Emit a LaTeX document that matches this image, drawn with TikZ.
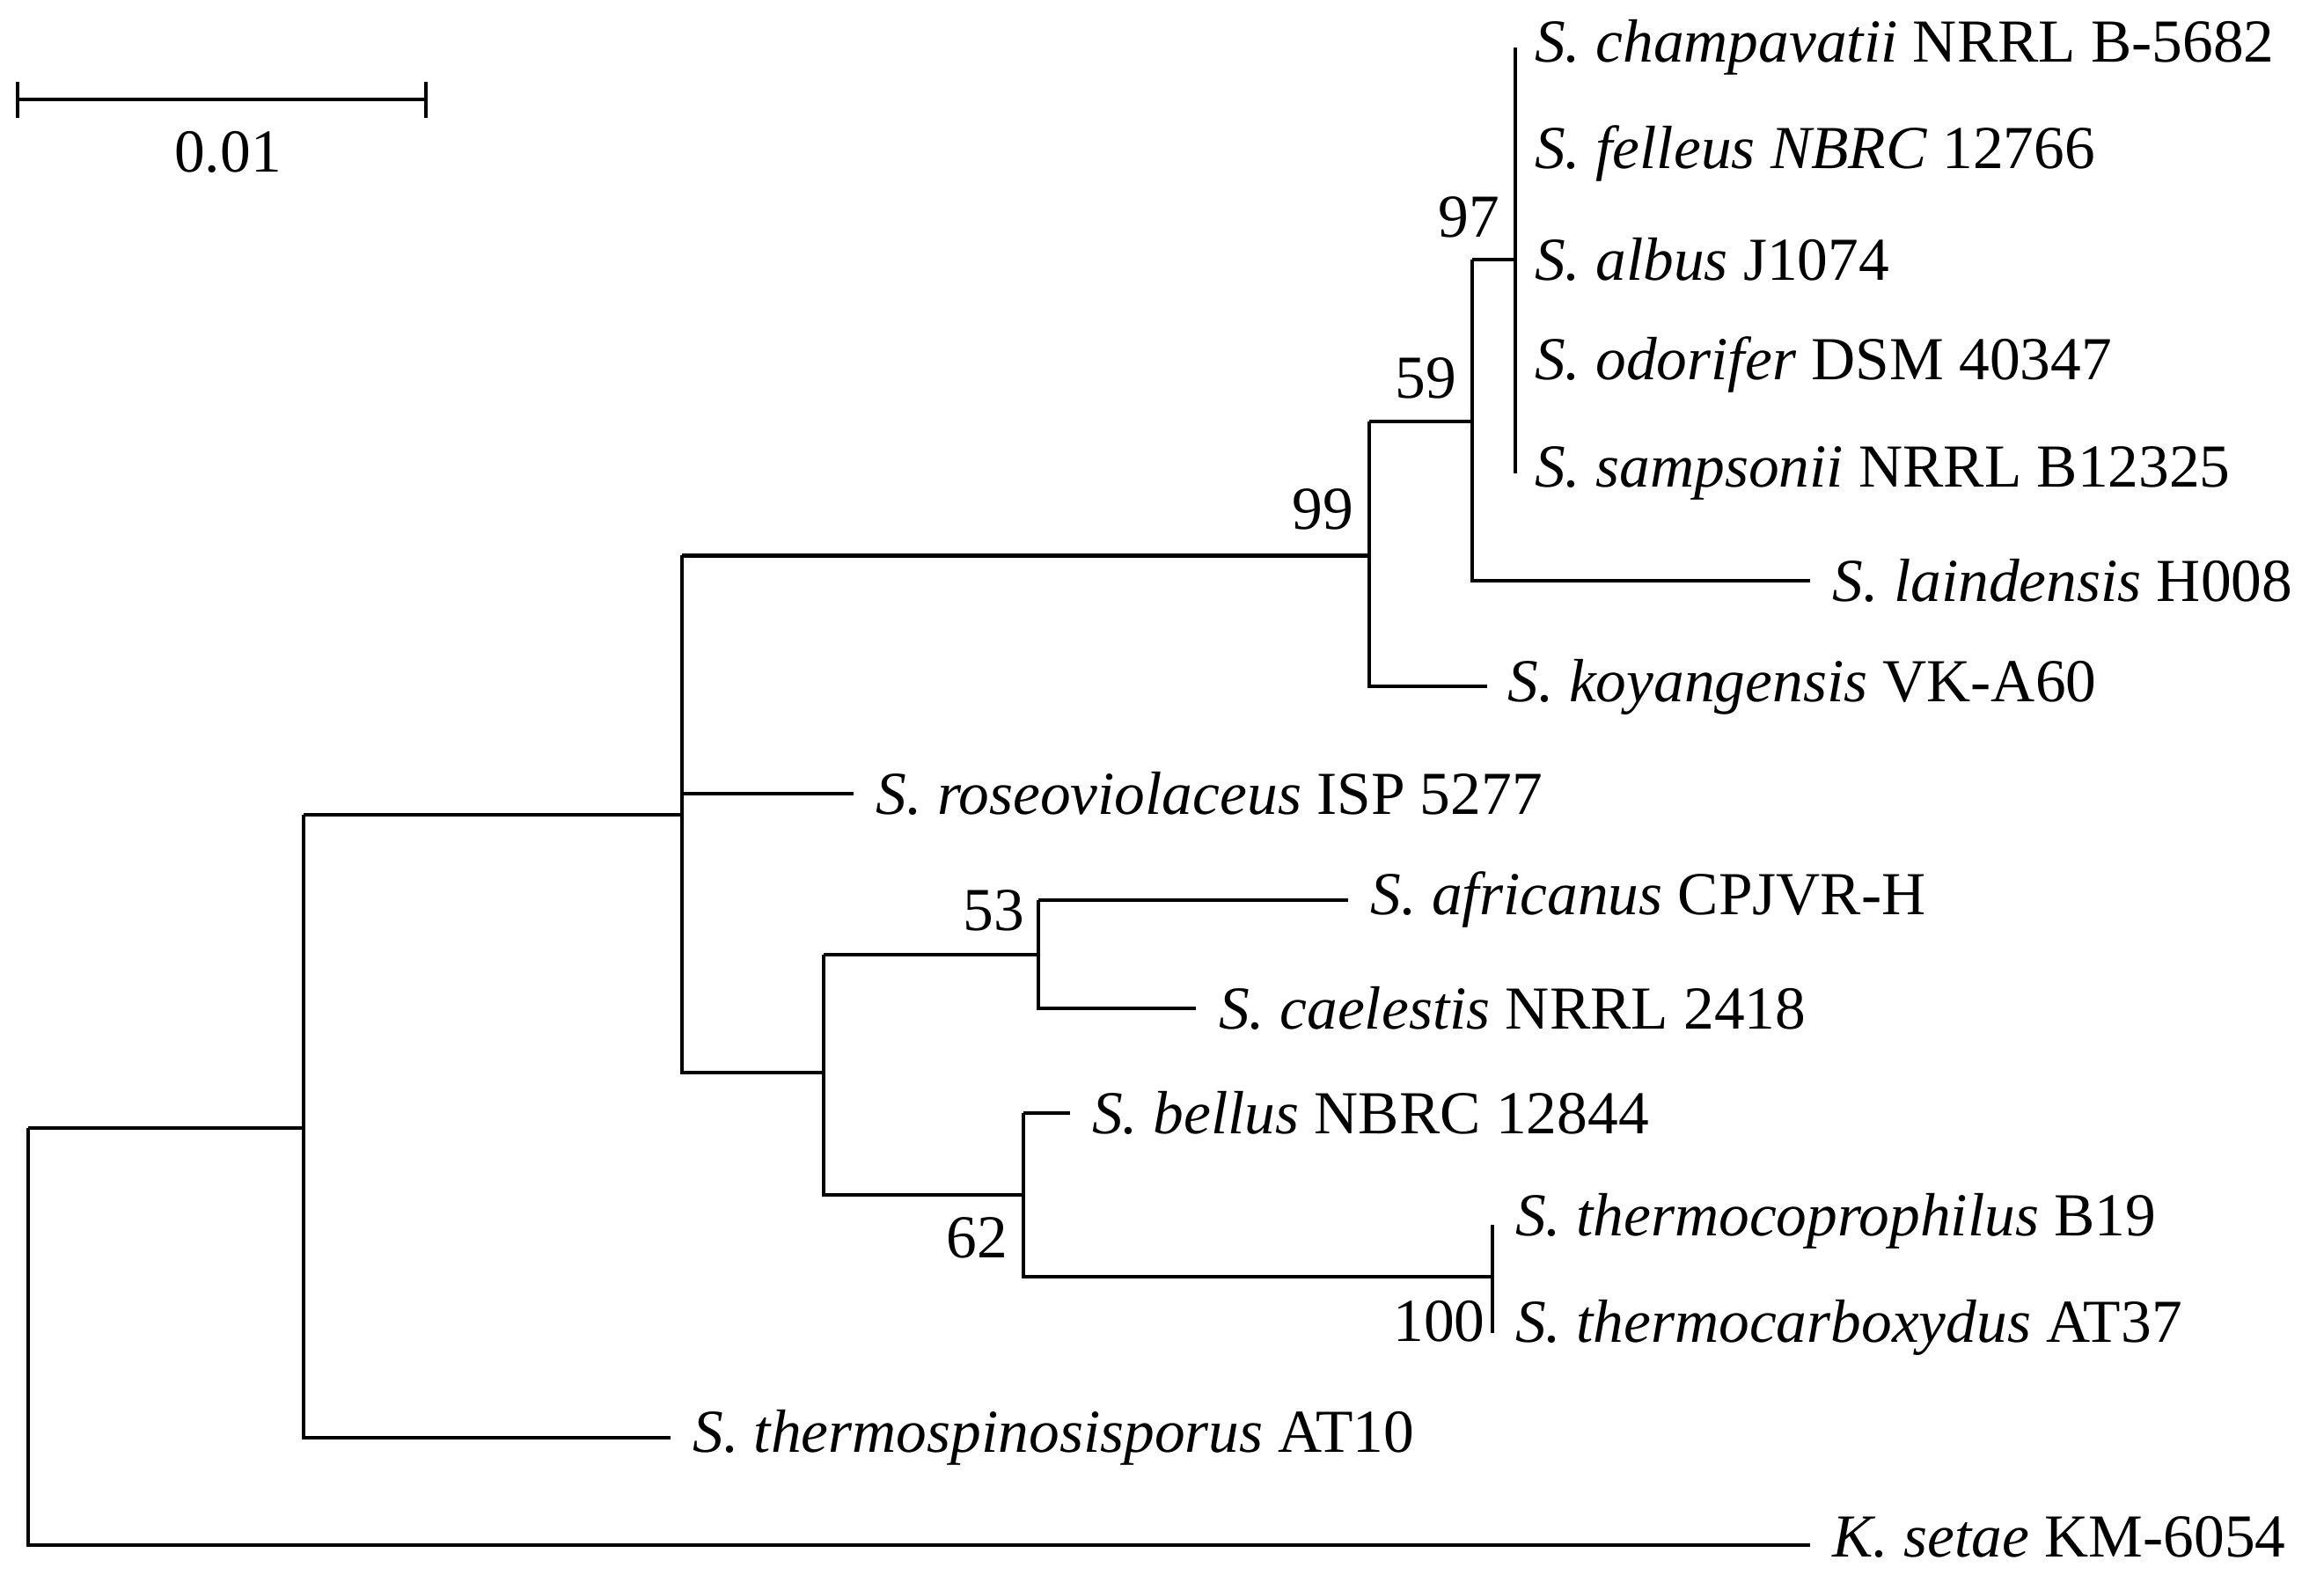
\documentclass[tikz,border=0pt]{standalone}
\usepackage{fontspec}
\setmainfont{Liberation Serif}
\begin{document}
\begin{tikzpicture}[x=1pt,y=-1pt,line width=2.4pt,
  lab/.style={anchor=west,inner sep=0pt,font=\fontsize{41}{44}\selectfont},
  bs/.style={inner sep=0pt,font=\fontsize{41}{44}\selectfont}]
\useasboundingbox[fill=white] (0,0) rectangle (1560,1057);
% scale bar
\coordinate (s1) at (12,67); \coordinate (s2) at (286,67);
\draw (s1) -- (s2); \draw (12,55) -- (12,79); \draw (286,55) -- (286,79);
\node[bs] (sl) at (153,102) {0.01};
% nodes
\coordinate (r) at (19,757);
\coordinate (a) at (204,757);
\coordinate (b) at (458,547);
\coordinate (c) at (919,373);
\coordinate (d) at (988,283);
\coordinate (e) at (1017,174);
\coordinate (f) at (553,720);
\coordinate (g) at (697,641);
\coordinate (h) at (687,802);
\coordinate (k) at (1002,857);
% tips
\coordinate (tK) at (1215,1037);
\coordinate (tT) at (450,965);
\coordinate (tR) at (573,533);
\coordinate (tKo) at (998,461);
\coordinate (tL) at (1215,390);
\coordinate (tAf) at (905,604);
\coordinate (tCa) at (803,677);
\coordinate (tBe) at (718,747);
% branches
\draw (r) |- (tK); \draw (r) -- (a);
\draw (a |- b) -- (a |- tT) -- (tT);
\draw (a |- b) -- (b);
\draw (b |- c) -- (b |- f) -- (f);
\draw (b |- c) -- (c); \draw (b |- tR) -- (tR);
\draw (c |- d) -- (c |- tKo) -- (tKo); \draw (c |- d) -- (d);
\draw (d |- e) -- (d |- tL) -- (tL); \draw (d |- e) -- (e);
\draw (1017,32) -- (1017,318);
\draw (f |- g) -- (f |- h) -- (h); \draw (f |- g) -- (g);
\draw (g |- tAf) -- (g |- tCa) -- (tCa); \draw (g |- tAf) -- (tAf);
\draw (h |- tBe) -- (h |- k) -- (k); \draw (h |- tBe) -- (tBe);
\draw (1002,822) -- (1002,895);
% bootstrap
\node[bs] at (888,342) {99};
\node[bs] at (957,254) {59};
\node[bs] at (986,146) {97};
\node[bs] at (667,611) {53};
\node[bs] at (656,831) {62};
\node[bs] at (966,887) {100};
% labels
\node[lab] (l1) at (1029,32) {\textit{S. champavatii} NRRL B-5682};
\node[lab] (l2) at (1029,103) {\textit{S. felleus NBRC} 12766};
\node[lab] (l3) at (1029,174) {\textit{S. albus} J1074};
\node[lab] (l4) at (1029,245) {\textit{S. odorifer} DSM 40347};
\node[lab] (l5) at (1029,318) {\textit{S. sampsonii} NRRL B12325};
\node[lab] (l6) at (1229,390) {\textit{S. laindensis} H008};
\node[lab] (l7) at (1011,461) {\textit{S. koyangensis} VK-A60};
\node[lab] (l8) at (587,533) {\textit{S. roseoviolaceus} ISP 5277};
\node[lab] (l9) at (919,604) {\textit{S. africanus} CPJVR-H};
\node[lab] (l10) at (817,677) {\textit{S. caelestis} NRRL 2418};
\node[lab] (l11) at (732,747) {\textit{S. bellus} NBRC 12844};
\node[lab] (l12) at (1016,820) {\textit{S. thermocoprophilus} B19};
\node[lab] (l13) at (1016,891) {\textit{S. thermocarboxydus} AT37};
\node[lab] (l14) at (464,965) {\textit{S. thermospinosisporus} AT10};
\node[lab] (l15) at (1229,1032) {\textit{K. setae} KM-6054};
\end{tikzpicture}
\end{document}
